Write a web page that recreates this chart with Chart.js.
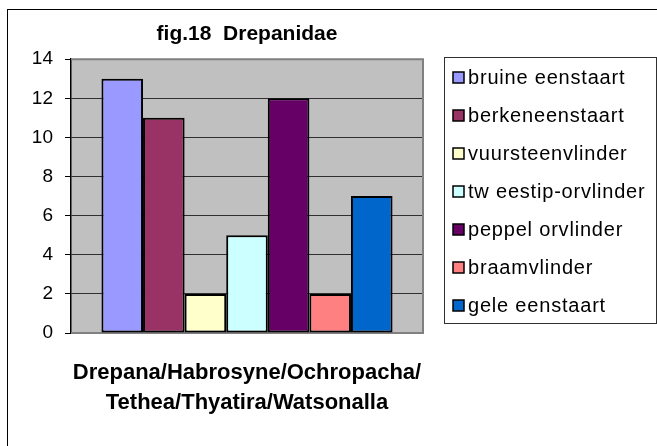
<!DOCTYPE html>
<html>
<head>
<meta charset="utf-8">
<script src="https://cdn.jsdelivr.net/npm/chart.js@4/dist/chart.umd.min.js"></script>
<style>
  body { margin: 0; background: #fff; }
  #wrap { width: 657px; height: 446px; }
</style>
</head>
<body>
<div id="wrap"><canvas id="drepChart" width="657" height="446"></canvas></div>
<script>
const categories = [['Drepana/Habrosyne/Ochropacha/', 'Tethea/Thyatira/Watsonalla']];
const seriesNames = ['bruine eenstaart', 'berkeneenstaart', 'vuursteenvlinder', 'tw eestip-orvlinder', 'peppel orvlinder', 'braamvlinder', 'gele eenstaart'];
const seriesValues = [13, 11, 2, 5, 12, 2, 7];
const seriesColors = ['#9999FF', '#993366', '#FFFFCC', '#CCFFFF', '#660066', '#FF8080', '#0066CC'];
const yMin = 0;
const yMax = 14;
const yStep = 2;

const FONT = 'Liberation Sans, Arial, sans-serif';
Chart.defaults.color = '#000';
Chart.defaults.font.family = FONT;

// gray plot background, outer frame
const frame = {
    id: 'frame',
    beforeDraw(chart) {
        const ctx = chart.ctx, a = chart.chartArea;
        ctx.save();
        ctx.fillStyle = '#C0C0C0';
        ctx.fillRect(a.left, a.top, a.right - a.left, a.bottom - a.top);
        ctx.strokeStyle = '#000';
        ctx.lineWidth = 1;
        ctx.strokeRect(7.5, 9.5, chart.width + 10, chart.height + 10);
        ctx.restore();
    },
    beforeDatasetsDraw(chart) {
        const ctx = chart.ctx, a = chart.chartArea;
        ctx.save();
        ctx.strokeStyle = '#808080';
        ctx.lineWidth = 2;
        ctx.beginPath();
        ctx.moveTo(a.left, a.top);
        ctx.lineTo(a.right, a.top);
        ctx.lineTo(a.right, a.bottom);
        ctx.lineTo(a.left, a.bottom);
        ctx.stroke();
        ctx.restore();
    }
};

// Excel style legend box on the right
const boxLegend = {
    id: 'boxLegend',
    afterDraw(chart) {
        const ctx = chart.ctx;
        const sets = chart.data.datasets;
        ctx.save();
        ctx.fillStyle = '#fff';
        ctx.fillRect(444.5, 57.5, 212, 266);
        ctx.strokeStyle = '#303030';
        ctx.lineWidth = 1;
        ctx.strokeRect(444.5, 57.5, 212, 266);
        ctx.font = '20px ' + FONT;
        ctx.letterSpacing = '0.8px';
        ctx.textBaseline = 'middle';
        sets.forEach((ds, i) => {
            const cy = 77.5 + i * 38;
            ctx.fillStyle = ds.backgroundColor;
            ctx.fillRect(453, cy - 5.5, 11, 11);
            ctx.strokeStyle = '#000';
            ctx.lineWidth = 1.5;
            ctx.strokeRect(453, cy - 5.5, 11, 11);
            ctx.fillStyle = '#000';
            ctx.fillText(ds.label, 468, cy + 1);
        });
        ctx.restore();
    }
};

const ctx = document.getElementById('drepChart').getContext('2d');
new Chart(ctx, {
    type: 'bar',
    data: {
        labels: categories,
        datasets: seriesNames.map((name, i) => ({
            label: name,
            data: [seriesValues[i]],
            backgroundColor: seriesColors[i],
            borderColor: '#000',
            borderWidth: 2,
            borderSkipped: false,
            categoryPercentage: 0.827,
            barPercentage: 1
        }))
    },
    options: {
        responsive: false,
        animation: false,
        layout: {
            padding: { left: 0, right: 234, top: 0, bottom: 0 }
        },
        scales: {
            y: {
                min: yMin,
                max: yMax,
                afterFit(scale) { scale.width = 71; },
                ticks: {
                    stepSize: yStep,
                    padding: 12,
                    font: { size: 19 },
                    color: '#000'
                },
                grid: {
                    color: '#303030',
                    lineWidth: 1,
                    tickLength: 6,
                    tickColor: '#000'
                },
                border: { color: '#000', width: 1.5 }
            },
            x: {
                afterFit(scale) { scale.height = 113; },
                grid: { display: false, drawTicks: false },
                border: { display: false },
                ticks: {
                    padding: 25,
                    font: { size: 22, weight: 'bold', lineHeight: 1.36 },
                    color: '#000',
                    maxRotation: 0
                }
            }
        },
        plugins: {
            legend: { display: false },
            tooltip: { enabled: false },
            title: {
                display: true,
                text: 'fig.18  Drepanidae',
                fullSize: false,
                color: '#000',
                font: { size: 21, weight: 'bold' },
                padding: { top: 22, bottom: 12 }
            }
        }
    },
    plugins: [frame, boxLegend]
});
</script>
</body>
</html>
